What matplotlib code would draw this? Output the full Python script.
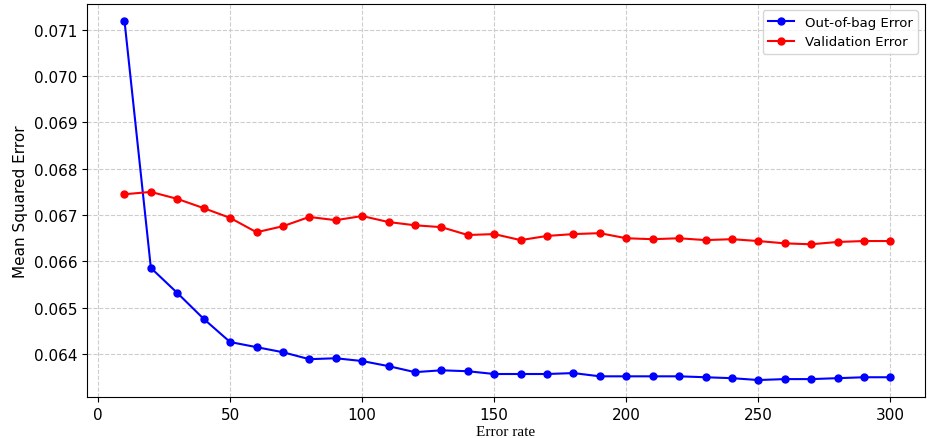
import matplotlib
matplotlib.use("Agg")
import matplotlib.pyplot as plt

trees = list(range(10, 301, 10))
oob = [0.0712, 0.06586, 0.06532, 0.06476, 0.06426, 0.06415, 0.06404, 0.06389, 0.06391, 0.06385,
       0.06374, 0.06361, 0.06365, 0.06363, 0.06357, 0.06357, 0.06357, 0.06359, 0.06352, 0.06352,
       0.06352, 0.06352, 0.0635, 0.06348, 0.06344, 0.06346, 0.06346, 0.06348, 0.0635, 0.0635]
val = [0.06745, 0.0675, 0.06735, 0.06715, 0.06694, 0.06663, 0.06676, 0.06696, 0.06689, 0.06698,
       0.06685, 0.06678, 0.06674, 0.06657, 0.06659, 0.06646, 0.06655, 0.06659, 0.06661, 0.0665,
       0.06648, 0.0665, 0.06646, 0.06648, 0.06644, 0.06639, 0.06637, 0.06642, 0.06644, 0.06644]

fig = plt.figure(figsize=(9.35, 4.39), dpi=100)
ax = fig.add_axes([0.093, 0.093, 0.896, 0.896])
ax.plot(trees, oob, color="blue", marker="o", markersize=5, lw=1.5, label="Out-of-bag Error")
ax.plot(trees, val, color="red", marker="o", markersize=5, lw=1.5, label="Validation Error")
ax.set_xlim(-4.2, 313)
ax.set_ylim(0.06307, 0.07156)
ax.set_xticks(range(0, 301, 50))
ax.set_yticks([0.064, 0.065, 0.066, 0.067, 0.068, 0.069, 0.070, 0.071])
ax.set_yticklabels([f"{v:.3f}" for v in ax.get_yticks()])
ax.tick_params(labelsize=11)
ax.grid(True, linestyle="--", color="#cccccc", lw=0.8)
ax.set_xlabel("Error rate", family="Liberation Serif", fontsize=11, labelpad=2)
ax.set_ylabel("Mean Squared Error", fontsize=11)
ax.legend(loc="upper right", fontsize=9.5)
fig.savefig("out.png")
